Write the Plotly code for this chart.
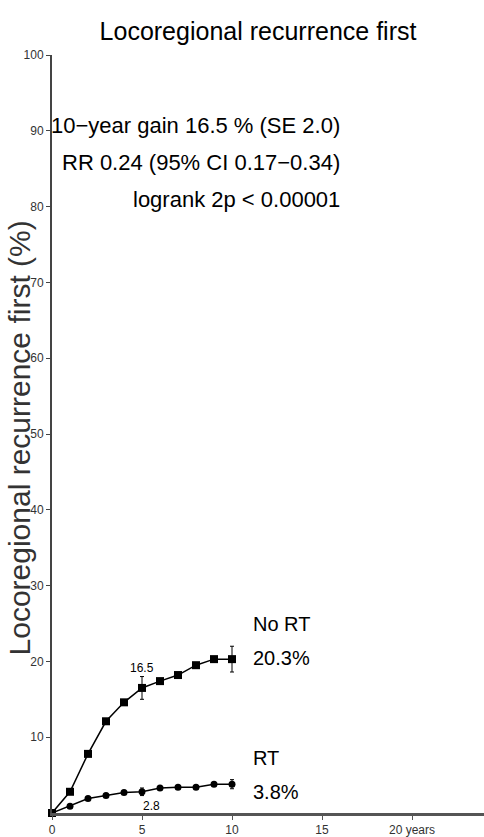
import plotly.graph_objects as go

years = [0, 1, 2, 3, 4, 5, 6, 7, 8, 9, 10]
no_rt = [0, 2.8, 7.8, 12.1, 14.6, 16.5, 17.4, 18.2, 19.5, 20.3, 20.3]
rt = [0, 0.9, 1.9, 2.3, 2.7, 2.8, 3.3, 3.4, 3.4, 3.8, 3.8]
err_years = [5, 10]
no_rt_err_y = [16.5, 20.3]
no_rt_err = [1.5, 1.7]
rt_err_y = [2.8, 3.8]
rt_err = [0.5, 0.6]
y_ticks = [10, 20, 30, 40, 50, 60, 70, 80, 90, 100]
x_ticks = [0, 5, 10, 15, 20]
x_ticktext = ["0", "5", "10", "15", "20 years"]
stat_lines = ["10−year gain 16.5 % (SE 2.0)", "RR 0.24 (95% CI 0.17−0.34)", "logrank 2p < 0.00001"]

FONT = "Liberation Sans, Arial, sans-serif"
L, B, H, W = 52, 19, 763, 432


def py(p):
    return (837 - B - p) / H


def px(p):
    return (p - L) / W


fig = go.Figure()
fig.add_trace(go.Scatter(x=years, y=no_rt, mode="lines+markers", cliponaxis=False,
                         line=dict(color="black", width=1.5),
                         marker=dict(symbol="square", size=8, color="black"),
                         showlegend=False))
fig.add_trace(go.Scatter(x=years, y=rt, mode="lines+markers", cliponaxis=False,
                         line=dict(color="black", width=1.5),
                         marker=dict(symbol="circle", size=7, color="black"),
                         showlegend=False))
fig.add_trace(go.Scatter(x=err_years, y=no_rt_err_y, mode="markers",
                         marker=dict(size=1, color="black"),
                         error_y=dict(type="data", array=no_rt_err, color="black", thickness=1, width=2),
                         showlegend=False))
fig.add_trace(go.Scatter(x=err_years, y=rt_err_y, mode="markers",
                         marker=dict(size=1, color="black"),
                         error_y=dict(type="data", array=rt_err, color="black", thickness=1, width=2),
                         showlegend=False))

fig.update_layout(
    width=484, height=837,
    margin=dict(l=L, r=0, t=55, b=B),
    paper_bgcolor="white", plot_bgcolor="white",
    font=dict(family=FONT, color="black"),
    title=dict(text="Locoregional recurrence first", x=(258 / 484), xanchor="center",
               y=(837 - 31) / 837, yanchor="middle",
               font=dict(family=FONT, size=25, color="black")),
    xaxis=dict(range=[0, 24], tickvals=x_ticks, ticktext=x_ticktext,
               showline=True, linecolor="#555", linewidth=3,
               ticks="outside", ticklen=4, tickcolor="#555",
               showgrid=False, zeroline=False,
               tickfont=dict(family=FONT, size=12, color="#333")),
    yaxis=dict(range=[0, 100], tickvals=y_ticks,
               showline=True, linecolor="#444", linewidth=2,
               ticks="outside", ticklen=4, tickcolor="#444",
               showgrid=False, zeroline=False,
               tickfont=dict(family=FONT, size=12, color="#333")),
)

ann = []
for txt, yc in zip(stat_lines, [126, 163, 200]):
    ann.append(dict(text=txt, xref="paper", yref="paper", x=px(342), y=py(yc),
                    xanchor="right", yanchor="middle", showarrow=False,
                    font=dict(family=FONT, size=22, color="black")))
ann += [
    dict(text="Locoregional recurrence first (%)", textangle=-90,
         xref="paper", yref="paper", x=px(19), y=py(441),
         xanchor="center", yanchor="middle", showarrow=False,
         font=dict(family=FONT, size=30, color="#333")),
    dict(text="16.5", x=5, y=no_rt_err_y[0] + 2.6, xref="x", yref="y", showarrow=False,
         font=dict(family=FONT, size=12)),
    dict(text="2.8", x=5.55, y=0.9, xref="x", yref="y", showarrow=False,
         font=dict(family=FONT, size=12)),
    dict(text="No RT", xref="paper", yref="paper", x=px(251), y=py(628), showarrow=False,
         xanchor="left", yanchor="middle", font=dict(family=FONT, size=20)),
    dict(text="20.3%", xref="paper", yref="paper", x=px(251), y=py(662), showarrow=False,
         xanchor="left", yanchor="middle", font=dict(family=FONT, size=20)),
    dict(text="RT", xref="paper", yref="paper", x=px(251), y=py(763), showarrow=False,
         xanchor="left", yanchor="middle", font=dict(family=FONT, size=20)),
    dict(text="3.8%", xref="paper", yref="paper", x=px(251), y=py(797), showarrow=False,
         xanchor="left", yanchor="middle", font=dict(family=FONT, size=20)),
]
fig.update_layout(annotations=ann)
fig.write_html("out.html")
